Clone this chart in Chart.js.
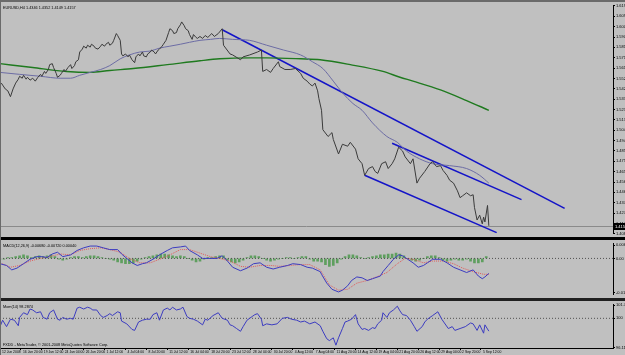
<!DOCTYPE html>
<html><head><meta charset="utf-8">
<script src="https://cdn.jsdelivr.net/npm/chart.js@4.4.1/dist/chart.umd.min.js"></script>
<style>
html,body{margin:0;padding:0;background:#c0c0c0;}
#wrap{position:relative;width:625px;height:355px;background:#c0c0c0;overflow:hidden;}
canvas{position:absolute;left:0;}
.sep{position:absolute;left:0;width:625px;background:#000;}
</style></head><body>
<div id="wrap">
<div class="sep" style="top:0;height:2px;background:#6a6a6a"></div>
<canvas id="cPrice" width="625" height="235" style="top:2px"></canvas>
<div class="sep" style="top:237px;height:3px"></div>
<canvas id="cMacd" width="625" height="58" style="top:240px"></canvas>
<div class="sep" style="top:298px;height:3px;background:#202020"></div>
<canvas id="cMom" width="625" height="54" style="top:301px"></canvas>
<div style="position:absolute;left:0;top:0;width:1px;height:355px;background:#6a6a6a"></div>
</div>
<script>
// ---------- DATA (bar index, value) ----------
const priceSeries = [[1,1.5480],[2,1.5462],[4,1.5426],[6,1.5408],[8,1.5354],[10,1.5426],[12,1.5480],[14,1.5516],[15,1.5543],[17,1.5525],[18,1.5552],[20,1.5516],[21,1.5534],[23,1.5507],[25,1.5525],[27,1.5498],[29,1.5534],[31,1.5561],[32,1.5543],[34,1.5588],[35,1.5570],[37,1.5606],[38,1.5651],[40,1.5660],[41,1.5624],[43,1.5570],[44,1.5534],[46,1.5552],[47,1.5570],[49,1.5606],[50,1.5588],[52,1.5624],[54,1.5651],[55,1.5615],[57,1.5642],[58,1.5678],[60,1.5696],[61,1.5768],[63,1.5795],[64,1.5822],[66,1.5804],[67,1.5831],[69,1.5813],[70,1.5840],[72,1.5822],[73,1.5804],[75,1.5795],[77,1.5822],[78,1.5840],[80,1.5822],[81,1.5840],[83,1.5858],[84,1.5831],[86,1.5849],[87,1.5876],[89,1.5939],[90,1.5921],[92,1.5876],[93,1.5750],[94,1.5732],[96,1.5750],[98,1.5723],[99,1.5741],[101,1.5696],[103,1.5669],[104,1.5723],[106,1.5750],[107,1.5732],[109,1.5768],[110,1.5732],[112,1.5723],[113,1.5750],[115,1.5768],[116,1.5786],[118,1.5768],[119,1.5750],[121,1.5786],[122,1.5795],[124,1.5822],[125,1.5840],[127,1.5876],[129,1.5948],[130,1.5984],[132,1.5966],[133,1.5939],[135,1.5948],[136,1.5984],[138,1.6020],[139,1.6047],[141,1.6011],[142,1.5984],[144,1.5966],[145,1.5930],[147,1.5885],[148,1.5930],[150,1.5903],[151,1.5894],[153,1.5912],[155,1.5894],[157,1.5921],[159,1.5903],[162,1.5939],[164,1.5912],[167,1.5939],[170,1.5984],[171,1.5831],[176,1.5750],[178,1.5741],[184,1.5696],[186,1.5723],[191,1.5741],[197,1.5768],[200,1.5786],[201,1.5588],[204,1.5606],[207,1.5579],[209,1.5615],[213,1.5678],[214,1.5633],[218,1.5606],[222,1.5606],[226,1.5615],[230,1.5570],[232,1.5525],[235,1.5498],[237,1.5471],[239,1.5453],[241,1.5480],[243,1.5408],[244,1.5336],[246,1.5228],[247,1.5048],[251,1.4985],[254,1.5021],[255,1.4958],[259,1.4823],[262,1.4913],[266,1.4895],[268,1.4931],[272,1.4868],[274,1.4778],[277,1.4733],[279,1.4625],[282,1.4688],[285,1.4706],[287,1.4661],[289,1.4643],[292,1.4733],[295,1.4751],[297,1.4688],[300,1.4733],[302,1.4778],[305,1.4886],[308,1.4850],[310,1.4796],[314,1.4733],[316,1.4778],[319,1.4553],[321,1.4598],[325,1.4661],[329,1.4733],[331,1.4751],[334,1.4706],[337,1.4715],[339,1.4670],[342,1.4625],[344,1.4580],[347,1.4553],[350,1.4481],[352,1.4418],[354,1.4436],[357,1.4463],[360,1.4436],[362,1.4445],[363,1.4328],[365,1.4211],[367,1.4256],[369,1.4175],[370,1.4238],[371,1.4193],[373,1.4346],[374,1.4157]];
const maFast = [[0,1.5579],[15,1.5561],[31,1.5543],[46,1.5525],[54,1.5525],[61,1.5552],[69,1.5579],[77,1.5606],[84,1.5642],[92,1.5705],[99,1.5741],[107,1.5768],[115,1.5777],[122,1.5804],[130,1.5822],[138,1.5840],[145,1.5858],[153,1.5876],[161,1.5885],[168,1.5894],[178,1.5885],[191,1.5876],[204,1.5831],[217,1.5786],[230,1.5741],[239,1.5678],[247,1.5615],[255,1.5498],[262,1.5390],[270,1.5291],[277,1.5228],[285,1.5111],[296,1.4985],[304,1.4931],[311,1.4850],[321,1.4778],[331,1.4733],[344,1.4715],[357,1.4688],[367,1.4625],[374,1.4553]];
const maSlow = [[0,1.5660],[25,1.5624],[51,1.5588],[69,1.5579],[84,1.5597],[102,1.5615],[128,1.5651],[153,1.5687],[168,1.5705],[191,1.5714],[204,1.5714],[230,1.5705],[245,1.5696],[268,1.5651],[293,1.5588],[306,1.5534],[316,1.5498],[337,1.5417],[357,1.5318],[374,1.5228]];
const trendUpper = [[170,1.5975],[432,1.4319]];
const trendMiddle = [[300,1.4922],[399,1.4400]];
const trendLower = [[279,1.4625],[380,1.4094]];
const priceTicks = [1.4083,1.4179,1.4275,1.4371,1.4467,1.4563,1.4659,1.4755,1.4851,1.4947,1.5043,1.5139,1.5235,1.5331,1.5427,1.5523,1.5619,1.5715,1.5811,1.5907,1.6003,1.6099,1.6195];
const lastClose = 1.4157;

const macdMain = [[0,-0.0024],[5,-0.0032],[9,-0.0052],[13,-0.0044],[18,-0.0024],[23,-0.0004],[28,0.0008],[32,0.0008],[36,0.0004],[40,0.0020],[44,0.0028],[48,0.0008],[54,0.0016],[59,0.0036],[64,0.0048],[69,0.0056],[74,0.0056],[79,0.0048],[84,0.0040],[90,0.0040],[93,0.0020],[97,0],[101,-0.0020],[105,-0.0032],[109,-0.0024],[112,-0.0020],[117,-0.0004],[122,0.0016],[128,0.0036],[132,0.0048],[138,0.0052],[142,0.0056],[145,0.0036],[151,0.0016],[155,0],[161,0],[166,0],[170,0.0012],[174,-0.0012],[178,-0.0040],[184,-0.0056],[189,-0.0044],[194,-0.0024],[199,-0.0020],[204,-0.0040],[209,-0.0048],[214,-0.0040],[220,-0.0032],[224,-0.0024],[230,-0.0028],[235,-0.0040],[239,-0.0044],[245,-0.0060],[246,-0.0072],[250,-0.0112],[254,-0.0140],[259,-0.0152],[262,-0.0144],[266,-0.0124],[269,-0.0100],[273,-0.0084],[277,-0.0088],[281,-0.0100],[285,-0.0092],[291,-0.0080],[293,-0.0060],[297,-0.0032],[301,-0.0004],[305,0.0016],[308,0.0012],[312,-0.0004],[316,-0.0020],[320,-0.0040],[324,-0.0032],[327,-0.0020],[331,-0.0004],[337,-0.0004],[342,-0.0020],[347,-0.0040],[352,-0.0052],[357,-0.0064],[362,-0.0052],[366,-0.0080],[369,-0.0092],[371,-0.0084],[374,-0.0068]];
const macdSignal = [[0,-0.0020],[8,-0.0040],[15,-0.0032],[23,-0.0012],[31,0],[38,0.0008],[46,0.0020],[54,0.0016],[61,0.0036],[69,0.0044],[77,0.0048],[84,0.0040],[92,0.0028],[99,0],[107,-0.0020],[115,-0.0020],[122,-0.0004],[130,0.0016],[138,0.0040],[145,0.0040],[153,0.0024],[161,0.0008],[168,0],[176,-0.0012],[184,-0.0036],[191,-0.0040],[199,-0.0032],[207,-0.0032],[214,-0.0036],[222,-0.0032],[230,-0.0028],[237,-0.0028],[245,-0.0052],[252,-0.0120],[259,-0.0144],[266,-0.0140],[273,-0.0112],[281,-0.0100],[288,-0.0084],[296,-0.0064],[304,-0.0024],[310,0],[316,-0.0004],[324,-0.0020],[331,-0.0012],[339,-0.0012],[347,-0.0024],[354,-0.0044],[362,-0.0060],[370,-0.0072],[374,-0.0072]];
// histogram, one value every 3 bars
const macdHist = [-0.0004,-0.0004,0.0004,0.0004,0.0008,0.0012,0.0016,0.0012,0.0004,0.0008,
0.0012,0.0008,0.0012,0.0016,0.0008,-0.0004,-0.0008,-0.0004,0.0004,0.0008,
0.0008,0.0004,0.0008,0.0012,0.0012,0.0008,0.0004,0,-0.0004,-0.0008,
-0.0016,-0.0020,-0.0024,-0.0024,-0.0020,-0.0012,-0.0004,0.0004,0.0008,0.0012,
0.0016,0.0020,0.0020,0.0016,0.0012,0.0008,0.0012,0.0008,0,-0.0008,
-0.0016,-0.0012,-0.0004,0.0004,0.0004,0.0008,0.0012,0.0012,-0.0008,-0.0016,
-0.0020,-0.0016,-0.0008,0.0004,0.0012,0.0012,0.0008,0,-0.0008,-0.0012,
-0.0008,-0.0004,0,0.0004,0.0004,0,0.0004,0.0008,0.0008,-0.0004,
-0.0012,-0.0012,-0.0016,-0.0028,-0.0036,-0.0032,-0.0020,-0.0004,0.0008,0.0016,
0.0016,0.0012,0.0004,0,0.0004,0.0008,0.0012,0.0016,0.0016,0.0020,
0.0020,0.0024,0.0020,0.0012,0,-0.0008,-0.0012,-0.0008,0,0.0008,
0.0012,0.0012,0.0004,-0.0008,-0.0012,-0.0008,-0.0004,-0.0008,-0.0008,-0.0004,
-0.0012,-0.0020,-0.0020,-0.0016,0.0008];
const macdTicks = [-0.0156, 0, 0.0060];
const macdTickLabels = ['-0.0156', '0.00', '0.0060'];
const macdLevel = 0;

const momBars = [0,2,5,8,11,14,15,18,21,23,25,28,31,33,36,38,41,44,46,48,51,54,56,59,61,64,67,69,71,74,77,79,82,84,86,90,92,93,97,101,103,106,109,112,115,117,120,122,125,128,130,132,135,138,140,143,145,148,151,155,157,159,163,167,170,174,176,178,181,184,186,189,193,195,197,200,201,204,208,212,216,220,223,227,230,233,237,241,245,247,250,252,255,257,259,262,264,266,269,272,274,277,279,282,285,287,289,292,293,296,298,301,304,306,308,311,314,317,319,323,325,327,331,335,338,340,343,346,348,352,356,360,362,365,367,370,371,374];
const momVals = [98.89,99.75,98.89,99.88,99.75,99.01,100.12,100.74,100.49,101.24,101.11,100.74,100.87,100.12,99.88,100.74,101.11,99.88,99.75,100.12,99.88,100.00,99.88,101.36,101.48,101.24,101.48,101.36,101.11,101.11,100.37,100.12,100.37,100.62,100.37,100.87,100.74,99.63,99.26,98.52,98.39,99.51,99.75,99.88,99.88,100.49,100.74,99.75,101.11,101.36,101.11,101.48,101.11,101.24,101.48,100.25,100.00,99.88,99.63,99.13,99.88,99.75,100.37,100.74,100.00,99.75,99.13,99.01,98.64,98.27,98.89,99.75,100.25,100.49,100.62,99.88,99.01,99.26,99.13,99.26,100.00,100.12,99.88,99.75,99.51,99.63,99.26,99.51,99.01,98.27,97.28,97.03,97.40,96.42,97.40,98.64,99.51,99.63,99.88,100.49,99.26,98.52,98.64,98.39,98.76,98.64,99.26,99.75,100.74,100.12,100.74,101.11,101.61,100.99,100.49,100.37,99.75,98.89,98.27,98.89,99.51,99.88,100.37,100.87,99.88,99.38,98.64,98.89,98.39,98.64,98.89,99.38,99.26,98.39,99.13,98.02,99.13,98.29];
const momTicks = [96.1137, 100, 101.726];
const momTickLabels = ['96.1137', '100', '101.726'];
const momLevel = 100;

const timeTickBars = [0,16,32,48,64,80,96,112,128,144,160,176,192,208,224,240,256,272,288,304,320,336,352,368];
const timeLabels = ['12 Jun 2008','16 Jun 20:00','19 Jun 12:00','24 Jun 04:00','26 Jun 20:00','1 Jul 12:00','4 Jul 04:00','8 Jul 20:00','11 Jul 12:00','16 Jul 04:00','18 Jul 20:00','23 Jul 12:00','28 Jul 04:00','30 Jul 20:00','4 Aug 12:00','7 Aug 04:00','11 Aug 20:00','14 Aug 12:00','19 Aug 04:00','21 Aug 20:00','26 Aug 12:00','29 Aug 04:00','2 Sep 20:00','5 Sep 12:00'];

const priceTitle = 'EURUSD,H4 1.4346 1.4352 1.4149 1.4157';
const macdTitle = 'MACD(12,26,9) -0.00680 -0.00720 0.00040';
const momTitle = 'Mom(14) 98.2874';
const footer = 'FXDD - MetaTrader, \u00A9 2001-2008 MetaQuotes Software Corp.';

// ---------- RENDERING ----------
const FAM = '"Liberation Sans Narrow","Liberation Sans",Arial,sans-serif';
const FONT = {family: FAM, size: 4};
const XFONT = {family: FAM, size: 3.4};
const TEXT_PX = 3.8;
const X_MAX = 469;
const pts = arr => arr.map(p => ({x: p[0], y: p[1]}));

const overlay = {
  id: 'overlay',
  beforeDatasetsDraw(chart, a, o) {
    if (o.hline == null) return;
    const {ctx, chartArea: ca} = chart;
    const y = Math.round(chart.scales.y.getPixelForValue(o.hline)) + 0.5;
    ctx.save(); ctx.strokeStyle = '#8a8a8a'; ctx.lineWidth = 1;
    ctx.beginPath(); ctx.moveTo(ca.left, y); ctx.lineTo(ca.right, y); ctx.stroke(); ctx.restore();
  },
  afterDraw(chart, a, o) {
    const {ctx, chartArea: ca} = chart;
    ctx.save();
    ctx.font = TEXT_PX + 'px ' + FAM;
    ctx.textBaseline = 'top'; ctx.fillStyle = '#000';
    (o.texts || []).forEach(t => ctx.fillText(t.s, ca.left + 3, t.fromBottom ? ca.bottom - t.off : ca.top + t.off));
    if (o.hline != null) {
      const y = Math.round(chart.scales.y.getPixelForValue(o.hline));
      ctx.fillStyle = '#000'; ctx.fillRect(ca.right + 1, y - 3, 12, 7);
      ctx.fillStyle = '#fff'; ctx.textBaseline = 'middle';
      ctx.font = '4px ' + FAM;
      ctx.fillText(o.hline.toFixed(4), ca.right + 2, y + 0.5);
    }
    ctx.restore();
  }
};

function yAxis(min, max, ticks, labels) {
  return {
    position: 'right', min, max,
    afterFit: s => { s.width = 12; },
    afterBuildTicks: s => { s.ticks = ticks.map(v => ({value: v})); },
    border: {display: true, color: '#000', width: 1},
    grid: {drawOnChartArea: false, tickLength: 2, color: '#000'},
    ticks: {font: FONT, color: '#000', padding: 1, autoSkip: false,
      callback: (v, i) => labels ? labels[i] : ticks[i].toFixed(4)}
  };
}
const hiddenX = {type: 'linear', min: 0, max: X_MAX, display: false, offset: false};
const base = {
  responsive: false, animation: false, devicePixelRatio: 1, events: [],
  layout: {padding: 0, autoPadding: false},
  elements: {point: {radius: 0}, line: {tension: 0}},
};
function lineDs(data, color, width, extra) {
  return Object.assign({type: 'line', data: pts(data), borderColor: color, borderWidth: width, pointRadius: 0, fill: false}, extra || {});
}

new Chart(document.getElementById('cPrice'), {
  type: 'line',
  data: {datasets: [
    lineDs(priceSeries, '#3a3a3a', 1),
    lineDs(maFast, '#6c6ca4', 1, {cubicInterpolationMode: 'monotone'}),
    lineDs(maSlow, '#1f7a1f', 1.4, {cubicInterpolationMode: 'monotone'}),
    lineDs(trendUpper, '#1414c8', 1.6),
    lineDs(trendMiddle, '#1414c8', 1.6),
    lineDs(trendLower, '#1414c8', 1.6)
  ]},
  options: Object.assign({}, base, {
    scales: {x: hiddenX, y: yAxis(1.4085, 1.6200, priceTicks, null)},
    plugins: {legend: {display: false}, tooltip: {enabled: false},
      overlay: {hline: lastClose, texts: [{s: priceTitle, off: 1}]}}
  }),
  plugins: [overlay]
});

new Chart(document.getElementById('cMacd'), {
  type: 'line',
  data: {datasets: [
    lineDs(macdMain, '#3c3cc0', 1),
    lineDs(macdSignal, '#e05a5a', 1, {borderDash: [1, 1]}),
    lineDs([[0, macdLevel], [X_MAX, macdLevel]], '#505050', 1, {borderDash: [1, 2]}),
    {type: 'bar', data: macdHist.map((v, i) => ({x: i * 3, y: v})), backgroundColor: '#5f9f5f', barThickness: 2}
  ]},
  options: Object.assign({}, base, {
    scales: {x: hiddenX, y: yAxis(-0.0164, 0.0068, macdTicks, macdTickLabels)},
    plugins: {legend: {display: false}, tooltip: {enabled: false},
      overlay: {texts: [{s: macdTitle, off: 1}]}}
  }),
  plugins: [overlay]
});

new Chart(document.getElementById('cMom'), {
  type: 'line',
  data: {datasets: [
    lineDs(momBars.map((b, i) => [b, momVals[i]]), '#3c3cc0', 1),
    lineDs([[0, momLevel], [X_MAX, momLevel]], '#505050', 1, {borderDash: [1, 2]})
  ]},
  options: Object.assign({}, base, {
    scales: {
      x: {type: 'linear', min: 0, max: X_MAX, offset: false, position: 'bottom',
        afterFit: s => { s.height = 7; },
        afterBuildTicks: s => { s.ticks = timeTickBars.map(v => ({value: v})); },
        border: {display: true, color: '#000', width: 1},
        grid: {drawOnChartArea: false, tickLength: 2, color: '#000'},
        ticks: {font: XFONT, color: '#000', autoSkip: false, maxRotation: 0, minRotation: 0,
          align: 'start', padding: 0, labelOffset: 2, callback: (v, i) => timeLabels[i]}},
      y: yAxis(96.045, 101.854, momTicks, momTickLabels)
    },
    plugins: {legend: {display: false}, tooltip: {enabled: false},
      overlay: {texts: [{s: momTitle, off: 1}, {s: footer, fromBottom: true, off: 5}]}}
  }),
  plugins: [overlay]
});
</script>
</body></html>
